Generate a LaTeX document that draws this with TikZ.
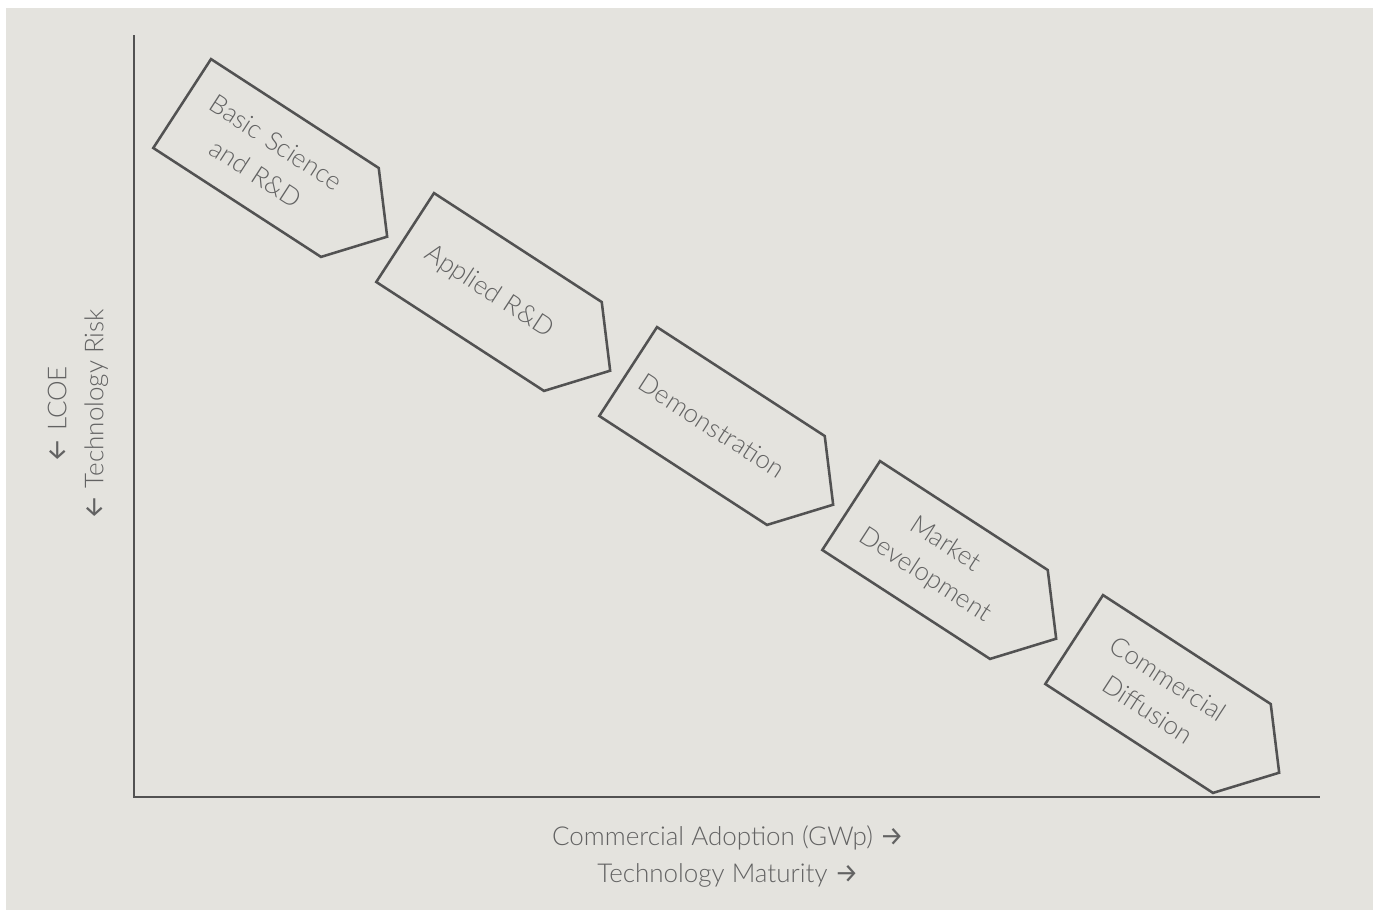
\documentclass[tikz,border=0pt]{standalone}
\usepackage{fontspec}
\setmainfont{Lato Light}
\newfontfamily\arrowfont{Fira Sans}
\usetikzlibrary{shapes.symbols}
\definecolor{panelgray}{HTML}{E4E3DE}
\definecolor{linegray}{HTML}{525252}
\definecolor{textgray}{HTML}{626262}
\newlength{\stagewidth}
\setlength{\stagewidth}{127.5pt}
\newcommand{\diagfont}{\fontsize{19.5}{27.75}\selectfont}
\newcommand{\arr}[1]{{\arrowfont\fontsize{20}{27.75}\selectfont#1}}

\tikzset{
    stage/.style={signal, signal to=east, signal pointer angle=100,
        draw=linegray, line width=1.9pt, rotate=-33,
        text width=\stagewidth, align=center, inner xsep=11.25pt, inner ysep=0pt,
        minimum height=79.5pt, text=textgray, font=\diagfont},
    axis/.style={draw=linegray, line width=2.2pt},
    axislabel/.style={text=textgray, font=\diagfont, align=center, inner sep=0pt}
}

\begin{document}
\begin{tikzpicture}[x=0.75pt, y=-0.75pt]
    \useasboundingbox (0,0) rectangle (1373,910);
    \fill[panelgray] (6,8) rectangle (1373,910);

    \coordinate (ytop) at (134,35);
    \coordinate (origin) at (134,797);
    \coordinate (xend) at (1320,797);
    \draw[axis] (ytop) -- (origin) -- (xend);

    \node[stage] (basic) at (266,158) {Basic Science\\and R\&D};
    \node[stage] (applied) at (489,292) {Applied R\&D};
    \node[stage] (demo) at (712,426) {Demonstration};
    \node[stage] (market) at (935,560) {Market\\Development};
    \node[stage] (diffusion) at (1158,694) {Commercial\\Diffusion};

    \node[axislabel, rotate=90] (ylabel) at (78,414) {\arr{←} LCOE\\\arr{←} Technology Risk};
    \node[axislabel] (xlabel) at (728,856) {Commercial Adoption (GWp) \arr{→}\\Technology Maturity \arr{→}};
\end{tikzpicture}
\end{document}
